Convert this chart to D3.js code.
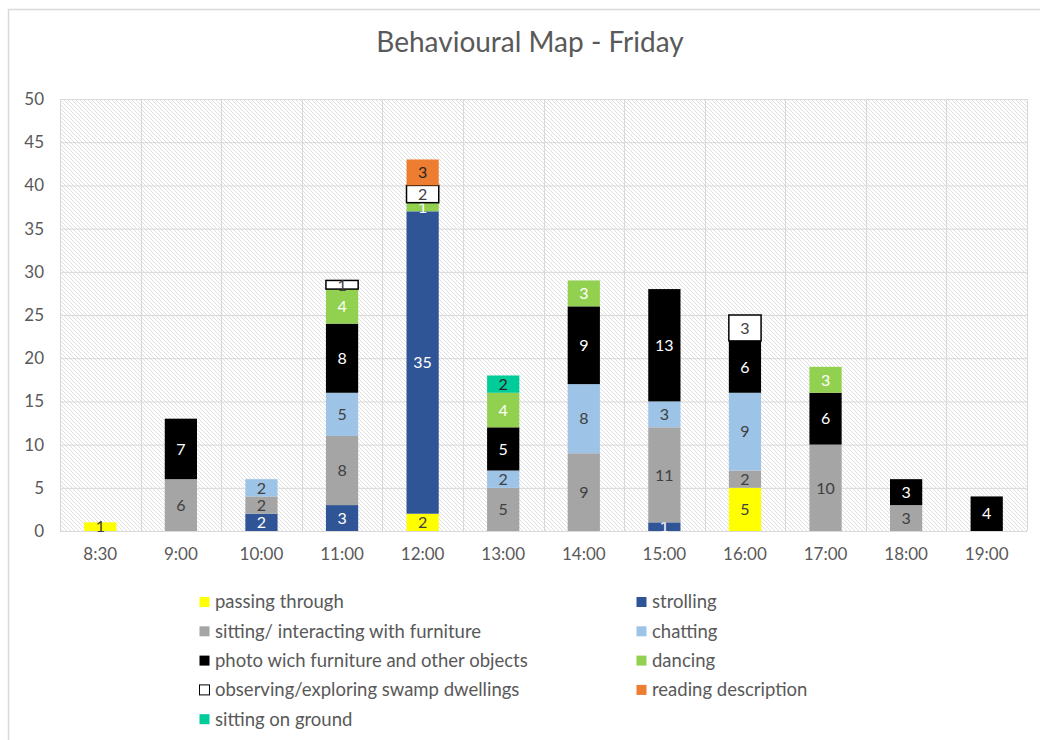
<!DOCTYPE html>
<html>
<head>
<meta charset="utf-8">
<script src="https://cdn.jsdelivr.net/npm/d3@7"></script>
<style>
  body { margin: 0; background: #fff; }
  svg text { font-family: Lato, "Open Sans", sans-serif; }
</style>
</head>
<body>
<div id="chart"></div>
<script>
const times = ['8:30', '9:00', '10:00', '11:00', '12:00', '13:00', '14:00', '15:00', '16:00', '17:00', '18:00', '19:00'];
const seriesNames = [
  'passing through',
  'strolling',
  'sitting/ interacting with furniture',
  'chatting',
  'photo wich furniture and other objects',
  'dancing',
  'observing/exploring swamp dwellings',
  'reading description',
  'sitting on ground'
];
const passing  = [1, 0, 0, 0, 2, 0, 0, 0, 5, 0, 0, 0];
const strolling = [0, 0, 2, 3, 35, 0, 0, 1, 0, 0, 0, 0];
const sitting  = [0, 6, 2, 8, 0, 5, 9, 11, 2, 10, 3, 0];
const chatting = [0, 0, 2, 5, 0, 2, 8, 3, 9, 0, 0, 0];
const photo    = [0, 7, 0, 8, 0, 5, 9, 13, 6, 6, 3, 4];
const dancing  = [0, 0, 0, 4, 1, 4, 3, 0, 0, 3, 0, 0];
const observing = [0, 0, 0, 1, 2, 0, 0, 0, 3, 0, 0, 0];
const reading  = [0, 0, 0, 0, 3, 0, 0, 0, 0, 0, 0, 0];
const ground   = [0, 0, 0, 0, 0, 2, 0, 0, 0, 0, 0, 0];
const yTicks = [0, 5, 10, 15, 20, 25, 30, 35, 40, 45, 50];

const seriesValues = [passing, strolling, sitting, chatting, photo, dancing, observing, reading, ground];
const fills = ['#ffff00', '#2f5597', '#a5a5a5', '#9dc3e6', '#000000', '#92d050', '#ffffff', '#ed7d31', '#00cc99'];
const labelColors = ['#404040', '#ffffff', '#404040', '#404040', '#ffffff', '#ffffff', '#404040', '#262626', '#262626'];

const w = 1040, h = 740;
const margin = { left: 60, right: 13, top: 99, bottom: 209 };

const table = times.map((t, i) => {
  const row = { time: t };
  seriesNames.forEach((s, j) => { row[s] = seriesValues[j][i]; });
  return row;
});
const stacked = d3.stack().keys(seriesNames)(table);

const svg = d3.select('#chart')
              .append('svg')
              .attr('width', w)
              .attr('height', h);

// hatch pattern for the plot area
const defs = svg.append('defs');
defs.append('pattern')
    .attr('id', 'hatch')
    .attr('patternUnits', 'userSpaceOnUse')
    .attr('width', 4)
    .attr('height', 4)
    .append('path')
    .attr('d', 'M-1,-1 L5,5 M-1,3 L1,5 M3,-1 L5,1')
    .attr('stroke', '#e0e0e0')
    .attr('stroke-width', 1);

svg.append('rect')
   .attr('x', 8.5).attr('y', 9.5)
   .attr('width', w).attr('height', h)
   .attr('fill', 'none')
   .attr('stroke', '#d9d9d9')
   .attr('stroke-width', 1.5);

const xScale = d3.scaleBand()
                 .domain(times)
                 .range([margin.left, w - margin.right])
                 .paddingInner(0.6)
                 .paddingOuter(0.3);

const yScale = d3.scaleLinear()
                 .domain([0, 50])
                 .range([h - margin.bottom, margin.top]);

svg.append('rect')
   .attr('x', margin.left)
   .attr('y', margin.top)
   .attr('width', w - margin.right - margin.left)
   .attr('height', h - margin.bottom - margin.top)
   .attr('fill', 'url(#hatch)');

// gridlines
const grid = svg.append('g');
grid.selectAll('line.h')
    .data(yTicks)
    .enter()
    .append('line')
    .attr('class', 'h')
    .attr('x1', margin.left)
    .attr('x2', w - margin.right)
    .attr('y1', d => yScale(d) + 0.5)
    .attr('y2', d => yScale(d) + 0.5)
    .attr('stroke', '#d9d9d9');

const step = xScale.step();
const vLines = times.map((t, i) => margin.left + i * step).concat([w - margin.right]);
grid.selectAll('line.v')
    .data(vLines)
    .enter()
    .append('line')
    .attr('class', 'v')
    .attr('x1', d => Math.round(d) + 0.5)
    .attr('x2', d => Math.round(d) + 0.5)
    .attr('y1', margin.top)
    .attr('y2', h - margin.bottom)
    .attr('stroke', '#d9d9d9');

// axes
const yAxis = d3.axisLeft(yScale).tickValues(yTicks).tickSize(0).tickPadding(16);
svg.append('g')
   .attr('transform', `translate(${margin.left}, 0)`)
   .call(yAxis)
   .call(g => g.select('.domain').remove())
   .selectAll('text')
   .attr('font-size', '17px')
   .attr('fill', '#595959');

const xAxis = d3.axisBottom(xScale).tickSize(0).tickPadding(17);
svg.append('g')
   .attr('transform', `translate(0, ${h - margin.bottom})`)
   .call(xAxis)
   .call(g => g.select('.domain').remove())
   .selectAll('text')
   .attr('font-size', '17px')
   .attr('fill', '#595959');

// bars
const layers = svg.append('g')
                  .selectAll('g')
                  .data(stacked)
                  .enter()
                  .append('g');

layers.selectAll('rect')
      .data((d, i) => d.map(v => ({ v, i })).filter(o => o.v[1] > o.v[0]))
      .enter()
      .append('rect')
      .attr('x', d => xScale(d.v.data.time))
      .attr('y', d => yScale(d.v[1]))
      .attr('width', xScale.bandwidth())
      .attr('height', d => yScale(d.v[0]) - yScale(d.v[1]))
      .attr('fill', d => fills[d.i])
      .attr('stroke', d => d.i === 6 ? '#000' : 'none')
      .attr('stroke-width', 1.5);

layers.selectAll('text')
      .data((d, i) => d.map(v => ({ v, i })).filter(o => o.v[1] > o.v[0]))
      .enter()
      .append('text')
      .attr('x', d => xScale(d.v.data.time) + xScale.bandwidth() / 2)
      .attr('y', d => (yScale(d.v[0]) + yScale(d.v[1])) / 2)
      .attr('dy', '0.36em')
      .attr('text-anchor', 'middle')
      .attr('font-size', '16px')
      .attr('fill', d => labelColors[d.i])
      .text(d => d.v[1] - d.v[0]);

// title
svg.append('text')
   .attr('x', 530)
   .attr('y', 52)
   .attr('text-anchor', 'middle')
   .attr('font-size', '28px')
   .attr('fill', '#595959')
   .text('Behavioural Map - Friday');

// legend
const legend = svg.append('g')
                  .selectAll('g')
                  .data(seriesNames)
                  .enter()
                  .append('g')
                  .attr('transform', (d, i) => `translate(${i % 2 === 0 ? 199 : 636}, ${602 + Math.floor(i / 2) * 29.3})`);

legend.append('rect')
      .attr('x', 0.5)
      .attr('y', -5)
      .attr('width', 10)
      .attr('height', 10)
      .attr('fill', (d, i) => fills[i])
      .attr('stroke', (d, i) => i === 6 ? '#000' : 'none');

legend.append('text')
      .attr('x', 16)
      .attr('dy', '0.35em')
      .attr('font-size', '18.5px')
      .attr('fill', '#595959')
      .text(d => d);
</script>
</body>
</html>
